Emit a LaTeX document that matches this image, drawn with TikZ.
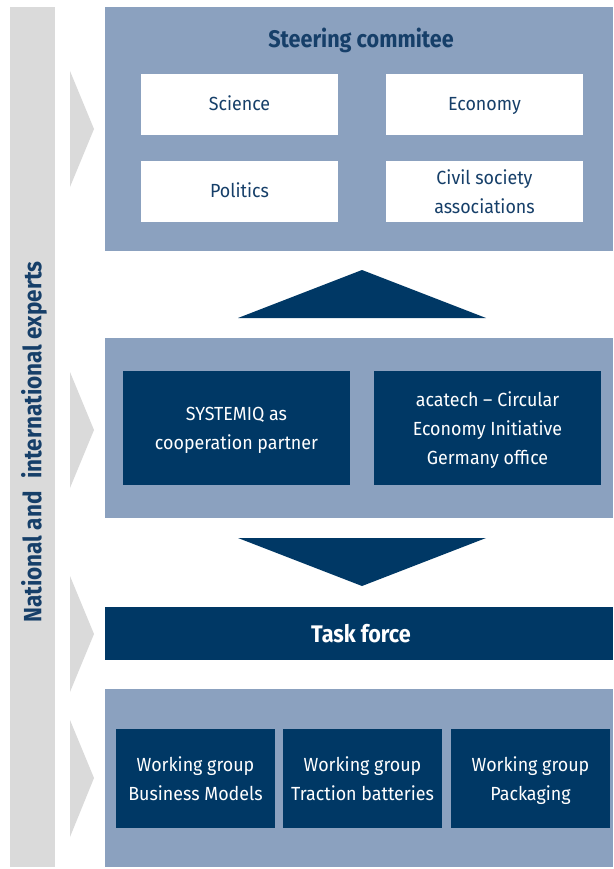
\documentclass[tikz,border=0pt]{standalone}
\usepackage{fontspec}
\setmainfont{Fira Sans}[FakeStretch=0.94]
\newfontfamily\headfont{Fira Sans}[FakeStretch=0.9]
\definecolor{panelblue}{HTML}{8BA1BF}
\definecolor{navy}{HTML}{003865}
\definecolor{textblue}{HTML}{163F69}
\definecolor{greybar}{HTML}{DADADA}
\newcommand{\lowerfirst}{\rule{0pt}{23.5pt}}
\begin{document}
\begin{tikzpicture}[x=1pt,y=-1pt,
  panel/.style={fill=panelblue,inner sep=0pt,outer sep=0pt,minimum width=508pt},
  boxtext/.style={inner sep=0pt,align=center,font=\fontsize{19}{29}\selectfont,
    execute at begin node=\strut, execute at end node=\strut},
  whitebox/.style={boxtext,fill=white,text=textblue,minimum width=197pt,minimum height=61pt},
  darkbox/.style={boxtext,fill=navy,text=white},
  headtext/.style={font=\headfont\fontsize{24}{26}\selectfont\bfseries},
  chev/.style={fill=greybar},
  tri/.style={fill=navy}]
\useasboundingbox (0,0) rectangle (613,869);
% left bar
\node[fill=greybar,minimum width=45pt,minimum height=860pt,inner sep=0pt] (bar) at (32.5,437) {};
\node[rotate=90,text=textblue,font=\headfont\fontsize{25}{27}\selectfont\bfseries] (experts) at (34,442) {National and\hspace{0.5em}international experts};
% chevrons
\path[chev] (70,71) -- (94,129) -- (70,187) -- cycle;
\path[chev] (70,372) -- (94,430) -- (70,488) -- cycle;
\path[chev] (70,576) -- (94,634) -- (70,692) -- cycle;
\path[chev] (70,720) -- (94,778) -- (70,837) -- cycle;
% steering committee
\node[panel,minimum height=244pt] (steer) at (359,129) {};
\node[text=textblue,headtext] (steertitle) at (361,40) {Steering commitee};
\node[whitebox] (science) at (239.5,104.5) {Science};
\node[whitebox] (economy) at (484.5,104.5) {Economy};
\node[whitebox] (politics) at (239.5,191.5) {Politics};
\node[whitebox] (civil) at (484.5,191.5) {\lowerfirst Civil society\\associations};
% up triangle
\path[tri] (238,318) -- (362,270) -- (486,318) -- cycle;
% middle
\node[panel,minimum height=180pt] (mid) at (359,428) {};
\node[darkbox,minimum width=227pt,minimum height=114pt] (systemiq) at (236.5,428) {\lowerfirst SYSTEMIQ as\\cooperation partner};
\node[darkbox,minimum width=227pt,minimum height=114pt] (acatech) at (487.5,428) {\lowerfirst acatech -- Circular\\Economy Initiative\\Germany office};
% down triangle
\path[tri] (238,538) -- (362,586) -- (486,538) -- cycle;
% task force
\node[fill=navy,inner sep=0pt,minimum width=508pt,minimum height=53pt] (task) at (359,633.5) {};
\node[text=white,headtext] (tasklabel) at (361,633.5) {Task force};
% working groups
\node[panel,minimum height=178pt] (bottom) at (359,778) {};
\node[darkbox,minimum width=159pt,minimum height=99pt] (wg1) at (195.5,778.5) {\lowerfirst Working group\\Business Models};
\node[darkbox,minimum width=159pt,minimum height=99pt] (wg2) at (362.5,778.5) {\lowerfirst Working group\\Traction batteries};
\node[darkbox,minimum width=159pt,minimum height=99pt] (wg3) at (530.5,778.5) {\lowerfirst Working group\\Packaging};
\end{tikzpicture}
\end{document}
